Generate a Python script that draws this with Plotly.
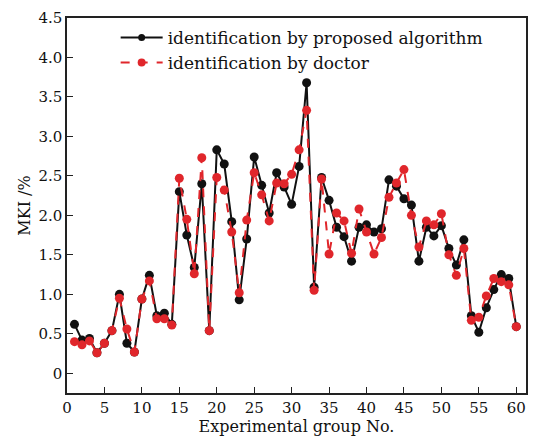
import plotly.graph_objects as go

groups = list(range(1, 61))
proposed = [0.62, 0.42, 0.44, 0.26, 0.38, 0.54, 1.00, 0.38, 0.27, 0.94,
            1.24, 0.73, 0.76, 0.62, 2.30, 1.75, 1.34, 2.40, 0.54, 2.83,
            2.65, 1.92, 0.93, 1.70, 2.74, 2.38, 2.03, 2.54, 2.36, 2.14,
            2.62, 3.68, 1.09, 2.48, 2.19, 1.85, 1.73, 1.42, 1.85, 1.88,
            1.79, 1.83, 2.45, 2.37, 2.21, 2.13, 1.42, 1.85, 1.74, 1.87,
            1.58, 1.37, 1.69, 0.73, 0.52, 0.83, 1.06, 1.25, 1.20, 0.59]
doctor = [0.40, 0.36, 0.41, 0.26, 0.38, 0.54, 0.95, 0.56, 0.27, 0.94,
          1.17, 0.69, 0.69, 0.61, 2.47, 1.95, 1.26, 2.73, 0.54, 2.48,
          2.32, 1.79, 1.02, 1.94, 2.54, 2.26, 1.93, 2.41, 2.40, 2.52,
          2.83, 3.33, 1.05, 2.46, 1.51, 2.03, 1.93, 1.52, 2.08, 1.79,
          1.51, 1.72, 2.23, 2.41, 2.58, 2.00, 1.60, 1.93, 1.88, 2.02,
          1.50, 1.24, 1.58, 0.67, 0.71, 0.98, 1.20, 1.16, 1.12, 0.59]

series_names = ["identification by proposed algorithm", "identification by doctor"]

x_ticks = list(range(0, 61, 5))
y_ticks = [0, 0.5, 1.0, 1.5, 2.0, 2.5, 3.0, 3.5, 4.0, 4.5]
y_tick_labels = ["0", "0.5", "1.0", "1.5", "2.0", "2.5", "3.0", "3.5", "4.0", "4.5"]

font_family = "DejaVu Serif"
black = "#111111"
red = "#e0262b"

fig = go.Figure()
fig.add_trace(go.Scatter(
    x=groups, y=proposed, mode="lines+markers", name=series_names[0],
    showlegend=False,
    line=dict(color=black, width=2),
    marker=dict(color=black, size=9),
))
fig.add_trace(go.Scatter(
    x=groups, y=doctor, mode="lines+markers", name=series_names[1],
    showlegend=False,
    line=dict(color=red, width=2, dash="dash"),
    marker=dict(color=red, size=9),
))
# legend entries (smaller symbols, as in the reference legend)
fig.add_trace(go.Scatter(
    x=[None], y=[None], mode="lines+markers", name=series_names[0],
    line=dict(color=black, width=2), marker=dict(color=black, size=7),
))
fig.add_trace(go.Scatter(
    x=[None], y=[None], mode="lines+markers", name=series_names[1],
    line=dict(color=red, width=2, dash="dash"), marker=dict(color=red, size=8),
))

axis_common = dict(
    showline=True, linecolor="#222222", linewidth=1.5, mirror=True,
    ticks="inside", ticklen=6, tickcolor="#222222", tickwidth=1.2,
    showgrid=False, zeroline=False,
    tickfont=dict(family=font_family, size=15, color="#111111"),
)

fig.update_layout(
    width=535, height=439,
    margin=dict(l=67, r=7, t=18, b=46),
    paper_bgcolor="white", plot_bgcolor="white",
    font=dict(family=font_family, size=15, color="#111111"),
    showlegend=True,
    legend=dict(x=0.106, y=0.995, xanchor="left", yanchor="top",
                bgcolor="rgba(0,0,0,0)", font=dict(family=font_family, size=17),
                tracegroupgap=0, itemwidth=42),
    xaxis=dict(range=[0, 61.3], tickvals=x_ticks,
               title=dict(text="Experimental group No.", standoff=2,
                          font=dict(family=font_family, size=16)),
               **axis_common),
    yaxis=dict(range=[-0.25, 4.5], tickvals=y_ticks, ticktext=y_tick_labels,
               title=dict(text="MKI /%", standoff=4,
                          font=dict(family=font_family, size=16)),
               **axis_common),
)

fig.write_html("out.html")
